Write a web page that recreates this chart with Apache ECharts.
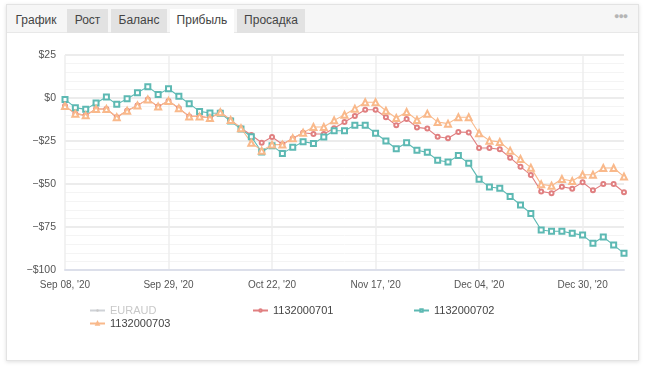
<!DOCTYPE html>
<html>
<head>
<meta charset="utf-8">
<script src="https://cdn.jsdelivr.net/npm/echarts@6/dist/echarts.min.js"></script>
<style>
html,body{margin:0;padding:0;background:#fff;width:646px;height:371px;overflow:hidden;font-family:"Liberation Sans",Arial,sans-serif;}
#card{position:absolute;left:6px;top:4px;width:631px;height:355px;border:1px solid #e3e3e3;box-shadow:0 1px 4px rgba(0,0,0,0.13);background:#fff;}
#bar{position:absolute;left:0;top:0;width:631px;height:27px;background:#f6f6f6;border-bottom:1px solid #e8e8e8;}
.tab{position:absolute;top:4px;height:24px;line-height:23px;font-size:12px;color:#444;text-align:center;}
.g{background:#e2e2e2;}
.w{background:#fff;height:25px;}
#dots{position:absolute;left:607px;top:6px;font-size:9px;color:#b5b5b5;letter-spacing:-1px;}
#chart{position:absolute;left:0;top:0;width:646px;height:371px;z-index:2;}
</style>
</head>
<body>
<div id="card">
  <div id="bar">
    <div class="tab" style="left:4px;width:50px;">График</div>
    <div class="tab g" style="left:60px;width:41px;">Рост</div>
    <div class="tab g" style="left:104px;width:56px;">Баланс</div>
    <div class="tab w" style="left:163px;width:64px;">Прибыль</div>
    <div class="tab g" style="left:230px;width:68px;">Просадка</div>
    <div id="dots">●●●</div>
  </div>
</div>
<div id="chart"></div>
<script>
const categories = ["Sep 08, '20","Sep 10, '20","Sep 12, '20","Sep 14, '20","Sep 16, '20","Sep 18, '20","Sep 20, '20","Sep 22, '20","Sep 24, '20","Sep 27, '20",
"Sep 29, '20","Oct 01, '20","Oct 03, '20","Oct 06, '20","Oct 08, '20","Oct 10, '20","Oct 13, '20","Oct 15, '20","Oct 17, '20","Oct 20, '20",
"Oct 22, '20","Oct 24, '20","Oct 27, '20","Oct 29, '20","Nov 01, '20","Nov 04, '20","Nov 06, '20","Nov 09, '20","Nov 11, '20","Nov 14, '20",
"Nov 17, '20","Nov 18, '20","Nov 20, '20","Nov 22, '20","Nov 23, '20","Nov 25, '20","Nov 27, '20","Nov 28, '20","Nov 30, '20","Dec 02, '20",
"Dec 04, '20","Dec 06, '20","Dec 09, '20","Dec 11, '20","Dec 14, '20","Dec 16, '20","Dec 19, '20","Dec 21, '20","Dec 24, '20","Dec 27, '20",
"Dec 30, '20","Jan 01, '21","Jan 04, '21","Jan 06, '21","Jan 08, '21"];

const seriesNames = ["EURAUD","1132000701","1132000702","1132000703"];

const eurValues = [];

const s701 = [-4.7,-9.1,-10.1,-6.4,-6.4,-11.2,-7.4,-4.3,-0.8,-5.0,
-1.7,-6.0,-10.7,-10.7,-11.6,-8.3,-12.8,-17.6,-21.5,-26.0,
-22.7,-26.9,-23.6,-20.2,-20.9,-20.9,-17.6,-14.0,-10.5,-6.8,
-6.8,-11.2,-15.9,-12.2,-17.1,-17.8,-22.5,-23.4,-19.8,-20.0,
-29.1,-29.1,-29.8,-34.7,-39.9,-44.8,-54.3,-55.4,-51.6,-52.7,
-49.0,-53.7,-50.0,-50.0,-54.8];

const s702 = [-0.8,-5.6,-6.6,-2.9,0.6,-3.7,-0.4,3.1,6.6,2.1,
5.4,1.0,-3.3,-7.8,-8.7,-8.9,-13.4,-18.0,-22.5,-31.4,
-27.7,-32.2,-28.7,-25.4,-26.4,-22.7,-19.0,-19.0,-15.9,-15.9,
-20.5,-25.0,-29.5,-26.0,-30.4,-31.6,-36.2,-37.2,-33.5,-38.0,
-47.3,-51.7,-52.5,-57.2,-62.2,-67.1,-76.7,-77.5,-77.5,-78.7,
-79.7,-84.5,-80.8,-85.5,-90.3];

const s703 = [-4.7,-9.1,-10.1,-6.4,-6.4,-11.2,-7.4,-4.3,-0.8,-5.0,
-1.7,-6.0,-10.7,-10.7,-11.6,-8.3,-12.8,-17.6,-26.0,-30.6,
-27.1,-27.1,-23.4,-20.2,-16.9,-16.9,-13.0,-9.7,-6.2,-2.5,
-2.5,-7.4,-11.6,-8.1,-12.8,-9.1,-14.0,-14.9,-11.2,-11.2,
-20.5,-24.8,-25.6,-30.6,-35.5,-40.5,-50.2,-51.0,-47.1,-48.3,
-44.6,-44.6,-40.7,-40.7,-45.7];

const yMin = -100, yMax = 25, yStep = 25;

const chart = echarts.init(document.getElementById('chart'), null, {renderer:'canvas'});

function legendAt(name, left, top){
  return {
    data:[name], left:left, top:top, orient:'horizontal',
    itemWidth:15, itemHeight:3, itemGap:0,
    selected:{"EURAUD":false},
    inactiveColor:'#c8c8c8',
    textStyle:{fontSize:11, color:'#444', fontFamily:'"Liberation Sans", Arial, sans-serif'},
    padding:0
  };
}

function lineSeries(name, data, color, symbol, size){
  return {
    name:name, type:'line', data:data,
    symbol:symbol, symbolSize:size, showSymbol:true, showAllSymbol:true,
    lineStyle:{width:1.1, color:color},
    itemStyle:{color:color, borderWidth:1.1},
    emphasis:{disabled:true},
    animation:false
  };
}

chart.setOption({
  animation:false,
  grid:{left:65, right:22, top:55, bottom:101, containLabel:false},
  legend:[
    legendAt(seriesNames[0], 89, 305),
    legendAt(seriesNames[1], 252, 305),
    legendAt(seriesNames[2], 413, 305),
    legendAt(seriesNames[3], 89, 318)
  ],
  xAxis:{
    type:'category', data:categories, boundaryGap:false,
    axisLine:{show:true, onZero:false, lineStyle:{color:'#dcdfea', width:2}},
    axisTick:{show:false},
    axisLabel:{interval:9, color:'#555', fontSize:10, margin:10, fontFamily:'"Liberation Sans", Arial, sans-serif'},
    splitLine:{show:true, interval:9, lineStyle:{color:'#eeeeee', width:1.5}}
  },
  yAxis:{
    type:'value', min:yMin, max:yMax, interval:yStep,
    axisLine:{show:false}, axisTick:{show:false},
    axisLabel:{color:'#555', fontSize:10.5, margin:9, fontFamily:'"Liberation Sans", Arial, sans-serif',
      formatter:function(v){ return v < 0 ? '\u2212$' + Math.abs(v) : '$' + v; }},
    splitLine:{show:true, lineStyle:{color:'#e6e6e6', width:1.5}},
    minorTick:{show:false, splitNumber:5},
    minorSplitLine:{show:true, lineStyle:{color:'#f4f4f4', width:1}}
  },
  series:[
    lineSeries(seriesNames[0], eurValues, '#aaaaaa', 'circle', 4),
    lineSeries(seriesNames[1], s701, '#e07f80', 'emptyCircle', 4),
    lineSeries(seriesNames[2], s702, '#5db9b3', 'emptyRect', 5),
    lineSeries(seriesNames[3], s703, '#f9b98b', 'emptyTriangle', 6)
  ]
});
</script>
</body>
</html>
